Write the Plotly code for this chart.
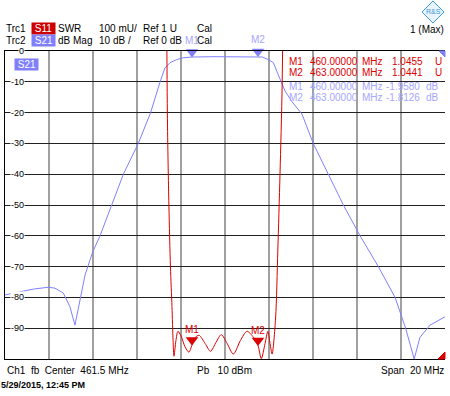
import plotly.graph_objects as go

# ---------------- data ----------------
# S21 (dB Mag) trace
s21_freq = [451.5, 452.18, 452.79, 453.47, 453.77, 454.15, 454.45, 454.68, 454.91, 455.14,
            455.32, 455.49, 455.82, 456.35, 456.88, 457.56, 458.12, 458.55, 458.77, 459.0,
            459.3, 459.6, 460.0, 461.0, 462.0, 463.0, 463.2, 463.47, 463.7, 463.85,
            464.0, 464.23, 464.55, 465.0, 465.51, 466.2, 466.88, 467.64, 468.47, 469.23,
            469.71, 470.1, 470.36, 470.82, 471.5]
s21_db = [-79.2, -78.1, -77.3, -76.7, -77.0, -78.6, -83.0, -89.0, -80.8, -72.7,
          -68.8, -65.2, -60.0, -50.0, -40.0, -30.0, -20.0, -10.0, -5.5, -3.8,
          -2.8, -2.2, -1.958, -1.85, -1.8, -1.8126, -1.95, -2.8, -3.8, -6.5,
          -9.3, -13.0, -16.5, -20.5, -30.0, -40.0, -50.0, -60.0, -70.0, -80.0,
          -90.0, -100.0, -93.0, -89.0, -86.3]

# S11 (SWR) trace
s11_freq = [458.8, 458.88, 458.95, 459.02, 459.09, 459.14, 459.18, 459.27, 459.36, 459.5,
            459.68, 459.86, 460.0, 460.15, 460.32, 460.6, 460.84, 461.1, 461.33, 461.6,
            461.88, 462.2, 462.5, 462.8, 463.0, 463.15, 463.32, 463.45, 463.55, 463.64,
            463.8, 463.9, 464.0, 464.1, 464.2]
s11_swr = [3.0, 1.8, 1.5, 1.3, 1.17, 1.06, 1.009, 1.06, 1.09, 1.075,
           1.04, 1.022, 1.0455, 1.07, 1.077, 1.05, 1.025, 1.055, 1.079, 1.05,
           1.016, 1.06, 1.09, 1.07, 1.0441, 1.001, 1.05, 1.09, 1.05, 1.016,
           1.133, 1.35, 1.6, 1.9, 3.0]

# markers
marker_names = ["M1", "M2"]
marker_freq = [460.0, 463.0]
marker_s11 = [1.0455, 1.0441]
marker_s21 = [-1.958, -1.8126]
marker_freq_txt = ["460.00000", "463.00000"]
marker_s11_txt = ["1.0455", "1.0441"]
marker_s21_txt = ["-1.9580", "-1.8126"]

y_ticks = [0, -10, -20, -30, -40, -50, -60, -70, -80, -90]
f_start, f_stop = 451.5, 471.5
swr_range = [1.0, 2.0]

# ---------------- style ----------------
RED = "#dc0000"
BLUE = "#8080ff"
BLUE_TXT = "#a6a6ff"
FONT = "Liberation Sans, Arial, sans-serif"
W, H = 450, 396
L, R, T, B = 5, 445, 51, 359


def px(x):
    return (x - L) / (R - L)


def py(y):
    return (B - y) / (B - T)


fig = go.Figure()

fig.add_trace(go.Scatter(x=s21_freq, y=s21_db, mode="lines",
                         line=dict(color=BLUE, width=1), hoverinfo="skip"))
fig.add_trace(go.Scatter(x=s11_freq, y=s11_swr, mode="lines", yaxis="y2",
                         line=dict(color=RED, width=1, shape="spline", smoothing=0.8),
                         hoverinfo="skip"))

# marker triangles (pointing down, tip on the trace)
fig.add_trace(go.Scatter(x=marker_freq, y=marker_s21, mode="markers",
                         marker=dict(symbol="triangle-up", size=11, color=BLUE,
                                     standoff=5, angle=180, line=dict(width=0)),
                         hoverinfo="skip", cliponaxis=False))
fig.add_trace(go.Scatter(x=marker_freq, y=marker_s11, mode="markers", yaxis="y2",
                         marker=dict(symbol="triangle-up", size=11, color=RED,
                                     standoff=5, angle=180, line=dict(width=0)),
                         hoverinfo="skip", cliponaxis=False))

ann = []


def text(x, y, s, color="black", size=10, anchor="left", bold=False, bg=None):
    d = dict(x=px(x), y=py(y), xref="paper", yref="paper", text=("<b>%s</b>" % s) if bold else s,
             showarrow=False, xanchor=anchor, yanchor="middle",
             font=dict(family=FONT, size=size, color=color), borderpad=0)
    if bg:
        d["bgcolor"] = bg
    ann.append(d)


# header
text(5, 28.5, "Trc1")
text(31, 28.5, " S11 ", color="white", bg="#cc0000")
text(57, 28.5, "SWR")
text(98, 28.5, "100 mU/")
text(142, 28.5, "Ref 1 U")
text(196, 28.5, "Cal")
text(5, 41, "Trc2")
text(31, 41, " S21 ", color="white", bg=BLUE)
text(57, 41, "dB Mag")
text(98, 41, "10 dB /")
text(142, 41, "Ref 0 dB")
text(196, 41, "Cal")
text(445, 29, "1 (Max)", anchor="right")

# S21 label inside
text(14, 64, " S21 ", color="white", bg=BLUE)

# y tick labels
for v in y_ticks:
    yp = T + (0 - v) / 100 * (B - T)
    text(25, yp, str(v), size=9, anchor="right", bg="white")

# marker table
rows = [(61.5, RED), (72.5, RED), (86, BLUE_TXT), (97, BLUE_TXT)]
for i in range(2):
    for j, (vals, unit) in enumerate([(marker_s11_txt, "U"), (marker_s21_txt, "dB")]):
        y, c = rows[j * 2 + i]
        text(288, y, marker_names[i], color=c)
        text(309, y, marker_freq_txt[i], color=c)
        text(361, y, "MHz", color=c)
        text(424 if unit == "U" else 421, y, vals[i], color=c, anchor="right")
        text(434 if unit == "U" else 425, y, unit, color=c)

# marker labels above triangles
for i in range(2):
    ann.append(dict(x=marker_freq[i], y=marker_s21[i], xref="x", yref="y",
                    text=marker_names[i], showarrow=False, yshift=17,
                    font=dict(family=FONT, size=10, color=BLUE_TXT)))
    ann.append(dict(x=marker_freq[i], y=marker_s11[i], xref="x", yref="y2",
                    text=marker_names[i], showarrow=False, yshift=15,
                    font=dict(family=FONT, size=10, color=RED)))

# footer
text(6, 370, "Ch1  fb  Center  461.5 MHz")
text(196, 370, "Pb   10 dBm")
text(445, 370, "Span  20 MHz", anchor="right")
text(0, 385, "5/29/2015, 12:45 PM", size=9, bold=True)

# logo text
text(433, 12, "R&S", size=7, color="#3a9ad9", anchor="center")

shapes = []


def path(points, fill, line=None):
    d = "M " + " L ".join("%f,%f" % (px(x), py(y)) for x, y in points) + " Z"
    shapes.append(dict(type="path", path=d, xref="paper", yref="paper",
                       fillcolor=fill, line=dict(color=line or fill, width=1), layer="above"))


path([(433, 1), (444, 12), (433, 23), (422, 12)], "#eaf4fc", "#3a9ad9")
path([(439, 51), (445, 51), (445, 57)], BLUE)
path([(438, 359), (445, 359), (445, 352)], RED)

fig.update_layout(
    width=W, height=H,
    margin=dict(l=L, r=W - R, t=T, b=H - B, pad=0),
    paper_bgcolor="white", plot_bgcolor="white",
    showlegend=False,
    xaxis=dict(range=[f_start, f_stop], dtick=2, tick0=f_start, showgrid=True,
               gridcolor="#a0a0a0", gridwidth=2, showticklabels=False, ticks="",
               showline=True, linecolor="black", linewidth=1, mirror=True, zeroline=False),
    yaxis=dict(range=[-100, 0], dtick=10, tick0=0, showgrid=True, gridcolor="#202020",
               gridwidth=1, showticklabels=False, ticks="", showline=True,
               linecolor="black", linewidth=1, zeroline=False),
    yaxis2=dict(range=swr_range, overlaying="y", showgrid=False, showticklabels=False,
                ticks="", zeroline=False, showline=False),
    annotations=ann, shapes=shapes,
)

fig.write_html("out.html", config={"displayModeBar": False},
               post_script="document.body.style.margin='0px';")
